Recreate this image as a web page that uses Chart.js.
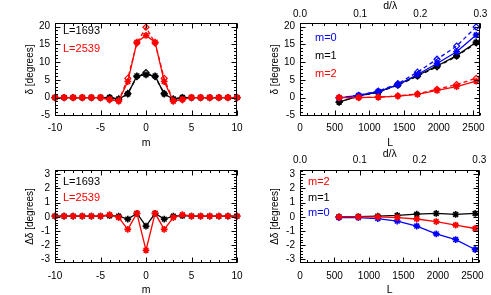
<!DOCTYPE html>
<html><head><meta charset="utf-8">
<script src="https://cdn.jsdelivr.net/npm/chart.js@4"></script>
<style>
html,body{margin:0;padding:0;background:#fff;}
#wrap{position:relative;width:491px;height:295px;overflow:hidden;background:#fff;}
canvas{position:absolute;left:0;top:0;}
</style></head><body>
<div id="wrap">
<canvas id="c1" width="491" height="295"></canvas>
<canvas id="c2" width="491" height="295"></canvas>
<canvas id="c3" width="491" height="295"></canvas>
<canvas id="c4" width="491" height="295"></canvas>
</div>
<script>
// ---------- data ----------
const mValues = [-10,-9,-8,-7,-6,-5,-4,-3,-2,-1,0,1,2,3,4,5,6,7,8,9,10];
const delta1693 =       [0,0,0,0,0,0, 0.05,-0.4,1.0,6.1,6.4,6.1,1.0,-0.4,0.05, 0,0,0,0,0,0];
const delta1693Alt =    [-0.05,-0.05,-0.05,-0.05,-0.05,-0.05, -0.03,-0.45,1.16,5.86,7.05,5.86,1.16,-0.45,-0.03, -0.05,-0.05,-0.05,-0.05,-0.05,-0.05];
const delta2539 =       [0,0,0,0,0,0, -0.5,-1.0,4.5,15.6,17.5,15.6,4.5,-1.0,-0.5, 0,0,0,0,0,0];
const delta2539Alt =    [-0.05,-0.05,-0.05,-0.05,-0.05,-0.05, -0.65,-0.95,5.4,15.35,19.8,15.35,5.4,-0.95,-0.65, -0.05,-0.05,-0.05,-0.05,-0.05,-0.05];
const dDelta1693 =      [0.05,0.05,0.05,0.05,0.05,0.05, 0.08,0.05,-0.16,0.24,-0.65,0.24,-0.16,0.05,0.08, 0.05,0.05,0.05,0.05,0.05,0.05];
const dDelta2539 =      [0.05,0.05,0.05,0.05,0.05,0.05, 0.15,-0.05,-0.88,0.25,-2.35,0.25,-0.88,-0.05,0.15, 0.05,0.05,0.05,0.05,0.05,0.05];

const Lvalues = [564, 846, 1128, 1410, 1693, 1975, 2257, 2539];
const deltaM0 =    [-0.1, 0.6, 1.7, 3.6, 6.5, 9.6, 12.9, 17.6];
const deltaM0Alt = [-0.05, 0.65, 1.82, 3.9, 7.15, 10.8, 14.5, 19.9];
const deltaM1 =    [-1.3, 0.5, 1.5, 3.6, 6.2, 8.9, 11.8, 15.6];
const deltaM1Alt = [-1.3, 0.48, 1.45, 3.5, 6.0, 8.66, 11.63, 15.36];
const deltaM2 =    [0.0, 0.0, 0.1, 0.4, 0.9, 2.0, 3.1, 4.6];
const deltaM2Alt = [0.0, 0.0, 0.1, 0.45, 1.05, 2.33, 3.68, 5.42];
const dDeltaM0 = [-0.05, -0.05, -0.12, -0.3, -0.65, -1.2, -1.6, -2.3];
const dDeltaM1 = [0.0, 0.02, 0.05, 0.1, 0.19, 0.24, 0.17, 0.24];
const dDeltaM2 = [0.0, 0.0, 0.0, -0.05, -0.15, -0.33, -0.58, -0.82];

const mTicks = [-10, -5, 0, 5, 10];
const deltaTicks = [-5, 0, 5, 10, 15, 20];
const dDeltaTicks = [-3, -2, -1, 0, 1, 2, 3];
const LTicks = [0, 500, 1000, 1500, 2000, 2500];
const dLambdaTicks = [0.0, 0.1, 0.2, 0.3];

// ---------- helpers ----------
Chart.defaults.font.family = "'Liberation Sans', Arial, sans-serif";
Chart.defaults.color = '#000';

const RED = '#ff0000', BLUE = '#0000ff', BLACK = '#000000';
const TICK_FONT = {size: 10, lineHeight: 1.2};

function pts(xs, ys) { return xs.map((x, i) => ({x: x, y: ys[i]})); }
function solid(xs, ys, color) {
  return {data: pts(xs, ys), borderColor: color, backgroundColor: color, borderWidth: 1.3,
    pointStyle: 'star', pointRadius: 3.4, pointBorderWidth: 1.6, pointBorderColor: color,
    tension: 0, clip: false};
}
function dashed(xs, ys, color) {
  return {data: pts(xs, ys), borderColor: color, backgroundColor: 'rgba(0,0,0,0)', borderWidth: 1.3,
    borderDash: [4, 3], pointStyle: 'rectRot', pointRadius: 3, pointBorderWidth: 1.2,
    pointBorderColor: color, pointBackgroundColor: 'rgba(0,0,0,0)', tension: 0, clip: false};
}
function xAxis(min, max, tickVals, title, labelPad, height, titlePad, pos, fmt) {
  return {type: 'linear', position: pos || 'bottom', min: min, max: max,
    afterBuildTicks: s => { s.ticks = tickVals.map(v => ({value: v})); },
    afterFit: s => { s.height = height; },
    grid: {display: false, drawTicks: false}, border: {display: false},
    ticks: {padding: labelPad, font: TICK_FONT, color: '#000', maxRotation: 0, autoSkip: false,
      callback: fmt || (v => String(v))},
    title: {display: true, text: title, font: {size: 10.5, lineHeight: 1}, color: '#000',
      padding: {top: titlePad, bottom: titlePad}}};
}
function yAxis(min, max, tickVals, title) {
  return {type: 'linear', position: 'left', min: min, max: max,
    afterBuildTicks: s => { s.ticks = tickVals.map(v => ({value: v})); },
    afterFit: s => { s.width = 55; },
    grid: {display: false, drawTicks: false}, border: {display: false},
    ticks: {padding: 5, font: TICK_FONT, color: '#000', autoSkip: false, callback: v => String(v)},
    title: {display: true, text: title, font: {size: 10, lineHeight: 1}, color: '#000',
      padding: {top: 25, bottom: 0}}};
}

const framePlugin = {
  id: 'frame',
  afterDatasetsDraw(chart, args, o) {
    const {ctx, chartArea: a} = chart;
    ctx.save();
    ctx.strokeStyle = '#000'; ctx.lineWidth = 1;
    const L = Math.round(a.left) + 0.5, R = Math.round(a.right) - 0.5;
    const T = Math.round(a.top) + 0.5, B = Math.round(a.bottom) - 0.5;
    ctx.strokeRect(L, T, R - L, B - T);
    ctx.beginPath();
    const each = (scale, step, fn) => {
      const k0 = Math.ceil(scale.min / step - 1e-6);
      for (let k = k0; k * step <= scale.max + 1e-6; k++) {
        fn(Math.round(scale.getPixelForValue(k * step)) + 0.5);
      }
    };
    const xs = chart.scales.x, ys = chart.scales.y, x2 = chart.scales.x2;
    const MJ = 5, MN = 2.5;
    [[o.xMajor, MJ], [o.xMinor, MN]].forEach(([st, len]) => each(xs, st, p => {
      ctx.moveTo(p, B); ctx.lineTo(p, B - len);
      if (!x2) { ctx.moveTo(p, T); ctx.lineTo(p, T + len); }
    }));
    if (x2) {
      [[o.x2Major, MJ], [o.x2Minor, MN]].forEach(([st, len]) => each(x2, st, p => {
        ctx.moveTo(p, T); ctx.lineTo(p, T + len);
      }));
    }
    [[o.yMajor, MJ], [o.yMinor, MN]].forEach(([st, len]) => each(ys, st, p => {
      ctx.moveTo(L, p); ctx.lineTo(L + len, p);
      ctx.moveTo(R, p); ctx.lineTo(R - len, p);
    }));
    ctx.stroke();
    // in-panel labels
    ctx.font = "11px 'Liberation Sans', Arial, sans-serif";
    ctx.textBaseline = 'middle'; ctx.textAlign = 'left';
    (o.labels || []).forEach(l => {
      ctx.fillStyle = l.color;
      ctx.fillText(l.text, a.left + l.dx, a.top + l.dy);
    });
    ctx.restore();
  }
};

function make(id, datasets, scales, padding, frame) {
  return new Chart(document.getElementById(id), {
    type: 'line',
    data: {datasets: datasets},
    options: {responsive: false, animation: false, devicePixelRatio: 1,
      layout: {padding: padding},
      scales: scales,
      plugins: {legend: {display: false}, tooltip: {enabled: false}, frame: frame}},
    plugins: [framePlugin]
  });
}

// ---------- top-left ----------
make('c1', [
  solid(mValues, delta2539, RED), dashed(mValues, delta2539Alt, RED),
  solid(mValues, delta1693, BLACK), dashed(mValues, delta1693Alt, BLACK)
], {
  x: xAxis(-10, 10, mTicks, 'm', 6, 35, 3),
  y: yAxis(-5.2, 21, deltaTicks, 'δ [degrees]')
}, {left: 0, top: 23, right: 254, bottom: 144}, {
  xMajor: 5, xMinor: 1, yMajor: 5, yMinor: 1,
  labels: [{text: 'L=1693', color: BLACK, dx: 8, dy: 8}, {text: 'L=2539', color: RED, dx: 8, dy: 26}]
});

// ---------- top-right ----------
make('c2', [
  solid(Lvalues, deltaM2, RED), dashed(Lvalues, deltaM2Alt, RED),
  solid(Lvalues, deltaM0, BLUE), dashed(Lvalues, deltaM0Alt, BLUE),
  solid(Lvalues, deltaM1, BLACK), dashed(Lvalues, deltaM1Alt, BLACK)
], {
  x: xAxis(0, 2600, LTicks, 'L', 6, 35, 3),
  x2: xAxis(0, 0.3, dLambdaTicks, 'd/λ', 3, 23, 0.5, 'top', v => v.toFixed(1)),
  y: yAxis(-5.2, 21, deltaTicks, 'δ [degrees]')
}, {left: 245, top: 0, right: 9, bottom: 144}, {
  xMajor: 500, xMinor: 100, x2Major: 0.1, x2Minor: 0.02, yMajor: 5, yMinor: 1,
  labels: [{text: 'm=0', color: BLUE, dx: 15, dy: 15}, {text: 'm=1', color: BLACK, dx: 15, dy: 33},
           {text: 'm=2', color: RED, dx: 15, dy: 51}]
});

// ---------- bottom-left ----------
make('c3', [
  solid(mValues, dDelta2539, RED), solid(mValues, dDelta1693, BLACK)
], {
  x: xAxis(-10, 10, mTicks, 'm', 7, 32, 0),
  y: yAxis(-3.25, 3.3, dDeltaTicks, 'Δδ [degrees]')
}, {left: 0, top: 170, right: 254, bottom: 0}, {
  xMajor: 5, xMinor: 1, yMajor: 1, yMinor: 0.2,
  labels: [{text: 'L=1693', color: BLACK, dx: 8, dy: 12}, {text: 'L=2539', color: RED, dx: 8, dy: 28}]
});

// ---------- bottom-right ----------
make('c4', [
  solid(Lvalues, dDeltaM2, RED), solid(Lvalues, dDeltaM0, BLUE), solid(Lvalues, dDeltaM1, BLACK)
], {
  x: xAxis(0, 2600, LTicks, 'L', 7, 32, 0),
  x2: xAxis(0, 0.3, dLambdaTicks, 'd/λ', 4, 23, 2, 'top', v => v.toFixed(1)),
  y: yAxis(-3.25, 3.3, dDeltaTicks, 'Δδ [degrees]')
}, {left: 245, top: 147, right: 9, bottom: 0}, {
  xMajor: 500, xMinor: 100, x2Major: 0.1, x2Minor: 0.02, yMajor: 1, yMinor: 0.2,
  labels: [{text: 'm=2', color: RED, dx: 8, dy: 12}, {text: 'm=1', color: BLACK, dx: 8, dy: 28},
           {text: 'm=0', color: BLUE, dx: 8, dy: 43}]
});
</script>
</body></html>
